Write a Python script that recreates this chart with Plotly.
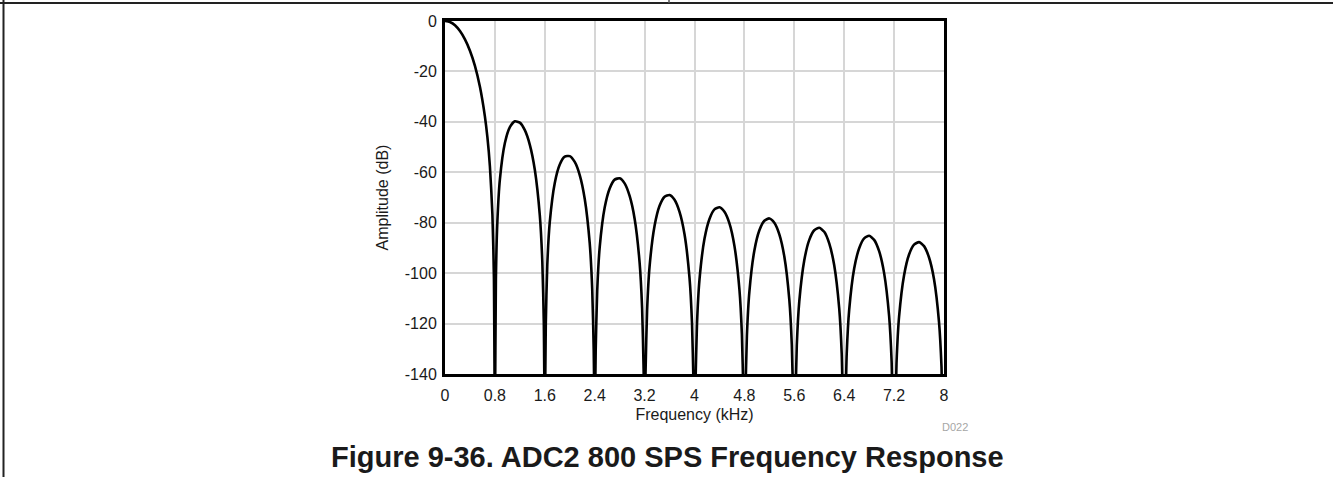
import plotly.graph_objects as go

W, H = 1333, 477
# plot area in pixels (left, right, top, bottom)
PX_L, PX_R, PX_T, PX_B = 445, 944, 21, 374

FONT = "Liberation Sans, Arial, sans-serif"
INK = "#1a1a1a"
GRID = "#d6d6d6"

# frequency response, one lobe per line
FREQ_KHZ = [
    0.0, 0.08, 0.16, 0.24, 0.32, 0.4, 0.48, 0.56, 0.64, 0.68, 0.72, 0.76, 0.784, 0.8,
    0.816, 0.84, 0.88, 0.96, 1.04, 1.12, 1.2, 1.28, 1.36, 1.44, 1.52, 1.56, 1.584, 1.6,
    1.616, 1.64, 1.68, 1.76, 1.84, 1.92, 2.0, 2.08, 2.16, 2.24, 2.32, 2.36, 2.384, 2.4,
    2.416, 2.44, 2.48, 2.56, 2.64, 2.72, 2.8, 2.88, 2.96, 3.04, 3.12, 3.16, 3.184, 3.2,
    3.216, 3.24, 3.28, 3.36, 3.44, 3.52, 3.6, 3.68, 3.76, 3.84, 3.92, 3.96, 3.984, 4.0,
    4.016, 4.04, 4.08, 4.16, 4.24, 4.32, 4.4, 4.48, 4.56, 4.64, 4.72, 4.76, 4.784, 4.8,
    4.816, 4.84, 4.88, 4.96, 5.04, 5.12, 5.2, 5.28, 5.36, 5.44, 5.52, 5.56, 5.584, 5.6,
    5.616, 5.64, 5.68, 5.76, 5.84, 5.92, 6.0, 6.08, 6.16, 6.24, 6.32, 6.36, 6.384, 6.4,
    6.416, 6.44, 6.48, 6.56, 6.64, 6.72, 6.8, 6.88, 6.96, 7.04, 7.12, 7.16, 7.184, 7.2,
    7.216, 7.24, 7.28, 7.36, 7.44, 7.52, 7.6, 7.68, 7.76, 7.84, 7.92, 7.96, 7.984, 8.0,
]
AMPLITUDE_DB = [
    0.0, -0.4, -1.7, -4.0, -7.3, -11.8, -17.8, -26.1, -37.9, -46.2, -57.7, -76.8, -101.4, -160,
    -102.3, -79.3, -62.8, -48.4, -42.1, -39.8, -40.3, -43.3, -49.1, -59.0, -77.1, -95.4, -119.6, -160,
    -120.1, -96.7, -79.7, -64.2, -56.9, -53.8, -53.6, -55.9, -61.1, -70.5, -88.1, -106.2, -130.3, -160,
    -130.7, -107.1, -89.8, -74.0, -66.4, -62.9, -62.4, -64.4, -69.4, -78.4, -95.8, -113.9, -137.9, -160,
    -138.3, -114.7, -97.3, -81.2, -73.3, -69.7, -69.0, -70.9, -75.7, -84.6, -101.9, -119.9, -143.9, -160,
    -143.7, -120.1, -102.6, -86.4, -78.5, -74.7, -73.9, -75.7, -80.3, -89.2, -106.4, -124.3, -148.3, -160,
    -148.5, -124.8, -107.3, -91.0, -83.0, -79.2, -78.3, -80.0, -84.6, -93.4, -110.5, -128.4, -152.3, -160,
    -152.4, -128.7, -111.2, -94.9, -86.8, -83.0, -82.0, -83.6, -88.2, -96.9, -114.0, -131.9, -155.8, -160,
    -155.8, -132.1, -114.6, -98.2, -90.1, -86.2, -85.2, -86.8, -91.3, -100.0, -117.0, -134.9, -158.8, -160,
    -158.5, -134.8, -117.2, -100.8, -92.6, -88.7, -87.7, -89.3, -93.8, -102.4, -119.4, -137.2, -160, -160,
]

X_TICKS = [0, 0.8, 1.6, 2.4, 3.2, 4, 4.8, 5.6, 6.4, 7.2, 8]
X_TICK_TEXT = ["0", "0.8", "1.6", "2.4", "3.2", "4", "4.8", "5.6", "6.4", "7.2", "8"]
Y_TICKS = [0, -20, -40, -60, -80, -100, -120, -140]
Y_TICK_TEXT = ["0", "-20", "-40", "-60", "-80", "-100", "-120", "-140"]


def px_x(x):
    return (x - PX_L) / (PX_R - PX_L)


def px_y(y):
    return (PX_B - y) / (PX_B - PX_T)


fig = go.Figure()
fig.add_trace(
    go.Scatter(
        x=FREQ_KHZ,
        y=AMPLITUDE_DB,
        mode="lines",
        line=dict(color="black", width=2.6, shape="spline", smoothing=0.6),
        hoverinfo="skip",
        showlegend=False,
    )
)

fig.update_layout(
    width=W,
    height=H,
    margin=dict(l=PX_L, r=W - PX_R, t=PX_T, b=H - PX_B, pad=0),
    paper_bgcolor="white",
    plot_bgcolor="white",
    font=dict(family=FONT, size=16, color=INK),
    showlegend=False,
)
fig.update_xaxes(
    range=[0, 8],
    tickvals=X_TICKS,
    ticktext=X_TICK_TEXT,
    showgrid=True,
    gridcolor=GRID,
    gridwidth=1.5,
    zeroline=False,
    showline=True,
    mirror=True,
    linecolor="black",
    linewidth=3,
    ticks="",
    ticklabelstandoff=5,
    tickfont=dict(size=16),
    title=dict(text="Frequency (kHz)", font=dict(size=16), standoff=6),
)
fig.update_yaxes(
    range=[-140, 0],
    tickvals=Y_TICKS,
    ticktext=Y_TICK_TEXT,
    showgrid=True,
    gridcolor=GRID,
    gridwidth=1.5,
    zeroline=False,
    showline=True,
    mirror=True,
    linecolor="black",
    linewidth=3,
    ticks="",
    ticklabelstandoff=2,
    tickfont=dict(size=16),
    title=dict(text="Amplitude (dB)", font=dict(size=16), standoff=13),
)

# page frame (top rule, left rule, small mark)
frame = dict(color="#222222", width=2)
fig.add_shape(type="line", xref="paper", yref="paper",
              x0=px_x(0), x1=px_x(W), y0=px_y(3), y1=px_y(3), line=frame)
fig.add_shape(type="line", xref="paper", yref="paper",
              x0=px_x(3.5), x1=px_x(3.5), y0=px_y(0), y1=px_y(H), line=frame)
fig.add_shape(type="line", xref="paper", yref="paper",
              x0=px_x(669), x1=px_x(669), y0=px_y(0), y1=px_y(3), line=dict(color="#555555", width=1.5))

fig.add_annotation(
    x=px_x(955), y=px_y(427), xref="paper", yref="paper",
    text="D022", showarrow=False, xanchor="center", yanchor="middle",
    font=dict(family=FONT, size=11, color="#a6a6a6"),
)
fig.add_annotation(
    x=px_x(667), y=px_y(457), xref="paper", yref="paper",
    text="<b>Figure 9-36. ADC2 800 SPS Frequency Response</b>", showarrow=False,
    xanchor="center", yanchor="middle",
    font=dict(family=FONT, size=29, color=INK),
)

# page is shot from its top-left corner, so drop the browser's body margin
fig.write_html(
    "out.html",
    config={"displayModeBar": False},
    post_script="document.body.style.margin='0';",
)
